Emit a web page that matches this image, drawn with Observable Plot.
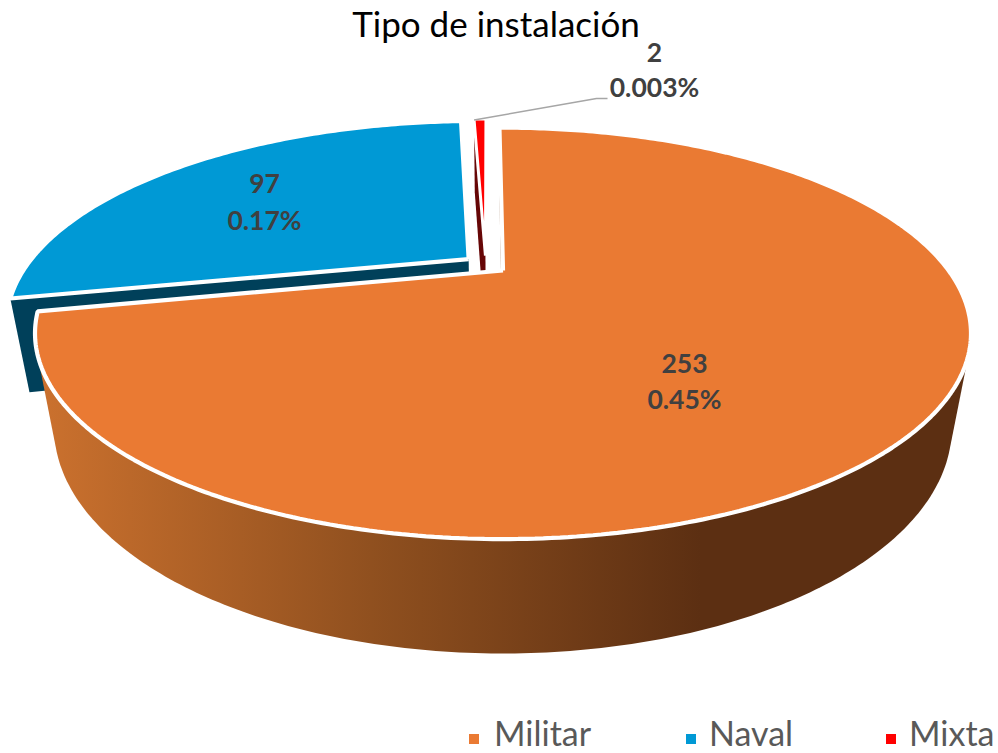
<!DOCTYPE html>
<html lang="es">
<head>
<meta charset="utf-8">
<title>Tipo de instalación</title>
<script src="https://cdn.jsdelivr.net/npm/d3@7"></script>
<script src="https://cdn.jsdelivr.net/npm/@observablehq/plot@0.6"></script>
<style>
  html, body { margin: 0; padding: 0; background: #fff; overflow: hidden; }
  body { width: 998px; height: 753px; font-family: Lato, "Open Sans", sans-serif; }
  #title { width: 992px; height: 32px; margin: 0; font-size: 35px; font-weight: 400; line-height: 32px; text-align: center; color: #000; white-space: nowrap; transform: translateY(7px); }
  #chart svg { display: block; }
  #legend { position: relative; height: 43px; }
  #legend .sw { position: absolute; top: 24px; width: 10px; height: 10px; }
  #legend .tx { position: absolute; top: 5.5px; font-size: 34px; line-height: 34px; color: #595959; white-space: nowrap; }
</style>
</head>
<body>
<h1 id="title">Tipo de instalación</h1>
<div id="chart"></div>
<div id="legend"></div>
<script>
// ---- data ----
const categories = ["Militar", "Naval", "Mixta"];
const counts = [253, 97, 2];
const percentLabels = ["0.45%", "0.17%", "0.003%"];

// ---- styles ----
const topColors = ["#ea7a33", "#0099d5", "#ff0000"];
const cutColors = ["#7d4f2b", "#00405a", "#660606"];
const labelColor = "#404040";
const labelAnchors = [[684, 364, 400], [264, 184, 221], [654, 53, 88]];
const leaderElbow = [[596, 98], [607, 98]];
const legendSwatchX = [469, 686, 886];
const legendTextX = [494, 709, 909];

// ---- view of the tilted disc ----
const W = 998, TOP = 32, H = 710 - TOP;
const cx = 502.5, cy = 270, R = 445.6, A = 186.5, k = 0.3056;
const wallDepth = 0.0388, vanishX = 501, vanishY = 2700;
const startDeg = -0.6, explode = 0.05;

function project(u, v, z = 0) {
  const w = 1 + k * v;
  const x = cx + R * u / w, y = cy - A * v / w;
  const t = wallDepth * z / (w + wallDepth * z);
  return [x + (vanishX - x) * t, y + (vanishY - y) * t];
}
const rad = d => d * Math.PI / 180;

// Slice angles come from the values themselves
const arcs = d3.pie().sort(null).startAngle(rad(startDeg)).endAngle(rad(startDeg + 360))(counts);
const mid = a => (a.startAngle + a.endAngle) / 2;
// the disc origin sits on the Militar apex; every slice is pulled out from a shared centre
const originU = -explode * Math.sin(mid(arcs[0])), originV = -explode * Math.cos(mid(arcs[0]));
const slices = arcs.map(a => ({
  a0: a.startAngle, a1: a.endAngle,
  ou: originU + explode * Math.sin(mid(a)),
  ov: originV + explode * Math.cos(mid(a))
}));
function rim(s, z, a0 = s.a0, a1 = s.a1) {
  const n = Math.max(2, Math.ceil((a1 - a0) / rad(0.75)));
  return d3.range(n + 1).map(i => {
    const t = a0 + (a1 - a0) * i / n;
    return project(s.ou + Math.sin(t), s.ov + Math.cos(t), z);
  });
}
const topFace = s => { const c = project(s.ou, s.ov); return [c, ...rim(s, 0), c]; };
const cutWall = (s, t) => [
  project(s.ou, s.ov), project(s.ou + Math.sin(t), s.ov + Math.cos(t)),
  project(s.ou + Math.sin(t), s.ov + Math.cos(t), 1), project(s.ou, s.ov, 1), project(s.ou, s.ov)
];
// the rim seen from the camera: the hull of the near arc at the top and at the foot of the wall
const nearA0 = Math.PI - Math.acos(k), nearA1 = Math.PI + Math.acos(k);
const rimWall = s => {
  const hull = d3.polygonHull([...rim(s, 0, nearA0, nearA1), ...rim(s, 1, nearA0, nearA1)]);
  return [...hull, hull[0]];
};
const face = (points, opts) => Plot.line(points, {
  x: d => d[0], y: d => d[1], curve: "linear", strokeLinejoin: "miter", strokeLinecap: "butt", ...opts
});

const gradientDefs = () => {
  const defs = d3.create("svg:defs");
  const g = defs.append("linearGradient").attr("id", "rimShade")
    .attr("gradientUnits", "userSpaceOnUse")
    .attr("x1", 40).attr("x2", 700).attr("y1", 0).attr("y2", 0);
  g.append("stop").attr("offset", 0).attr("stop-color", "#cb712e");
  g.append("stop").attr("offset", 0.5).attr("stop-color", "#90501f");
  g.append("stop").attr("offset", 1).attr("stop-color", "#5c2f12");
  return defs.node();
};

const edge = { stroke: "#fff", strokeWidth: 4.2 };
const [militar, naval, mixta] = slices;
const labelRows = categories.flatMap((c, i) => [
  { text: String(counts[i]), x: labelAnchors[i][0], y: labelAnchors[i][1] },
  { text: percentLabels[i], x: labelAnchors[i][0], y: labelAnchors[i][2] }
]);
const leaderStart = project(mixta.ou + Math.sin(mixta.a0) * 0.99, mixta.ov + Math.cos(mixta.a0) * 0.99);

const chart = Plot.plot({
  width: W, height: H, margin: 0,
  x: { domain: [0, W], range: [0, W], axis: null },
  y: { domain: [TOP, TOP + H], range: [0, H], axis: null },
  style: { background: "transparent" },
  marks: [
    gradientDefs,
    // side walls, far to near
    face(cutWall(mixta, mixta.a0), { fill: cutColors[2], stroke: "none" }),
    face(cutWall(naval, naval.a0), { fill: cutColors[1], stroke: "none" }),
    face(cutWall(militar, militar.a0), { fill: cutColors[0], stroke: "none" }),
    face(rimWall(militar), { fill: "url(#rimShade)", stroke: "none" }),
    // top faces
    face(topFace(naval), { fill: topColors[1], ...edge }),
    face(topFace(mixta), { fill: topColors[2], stroke: "#fff", strokeWidth: 3 }),
    face(topFace(militar), { fill: topColors[0], ...edge }),
    // leader line of the smallest slice
    face([leaderStart, ...leaderElbow], { stroke: "#a6a6a6", strokeWidth: 1.5 }),
    // data labels
    Plot.text(labelRows, {
      x: "x", y: "y", text: "text", fill: labelColor, fontSize: 26.5, fontWeight: 700,
      fontFamily: "Lato, 'Open Sans', sans-serif", textAnchor: "middle", lineAnchor: "middle"
    })
  ]
});
document.getElementById("chart").append(chart);

const legend = document.getElementById("legend");
categories.forEach((c, i) => {
  const sw = document.createElement("span");
  sw.className = "sw"; sw.style.left = legendSwatchX[i] + "px"; sw.style.background = topColors[i];
  const tx = document.createElement("span");
  tx.className = "tx"; tx.style.left = legendTextX[i] + "px"; tx.textContent = c;
  legend.append(sw, tx);
});
</script>
</body>
</html>
